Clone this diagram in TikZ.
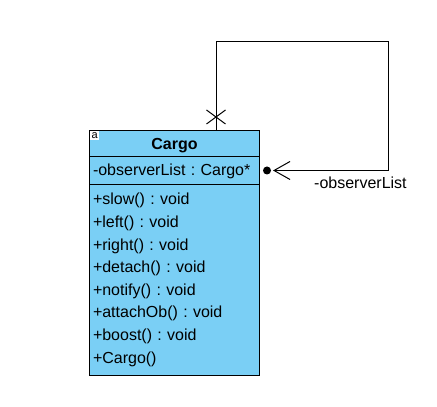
\documentclass[tikz,border=0pt]{standalone}
\usepackage{fontspec}
\setmainfont{Liberation Sans}
\usetikzlibrary{arrows.meta,positioning,shapes.multipart,shapes.misc,calc}
\definecolor{classblue}{RGB}{122,207,245}
\tikzset{
  umlclass/.style={
    rectangle split,
    rectangle split parts=3,
    rectangle split draw splits=true,
    draw,
    fill=classblue,
    line width=1pt,
    minimum width=170pt,
    text width=163pt,
    align=left,
    inner xsep=3.5pt,
    inner ysep=0pt,
    font=\fontsize{16}{22.6}\selectfont\frenchspacing
  },
  kindicon/.style={
    fill=white,
    minimum size=9pt,
    inner sep=0pt,
    font=\fontsize{11}{11}\selectfont
  },
  assoc/.style={line width=1pt},
  navend/.style={-{Straight Barb[length=16pt,width=18pt]}},
  ownerdot/.style={circle,fill,minimum size=8pt,inner sep=0pt},
  crossmark/.style={cross out,draw,line width=1pt,minimum width=18pt,minimum height=13pt,inner sep=0pt},
  rolelabel/.style={inner sep=0pt,font=\fontsize{16}{16}\selectfont}
}
\begin{document}
\begin{tikzpicture}[x=1pt,y=1pt]
\useasboundingbox (0,0) rectangle (437,407);

\node[umlclass, anchor=north west] (cargo) at (89,277) {
  \nodepart{one}\rule[-6.3pt]{0pt}{25pt}\makebox[\linewidth][c]{\textbf{Cargo}}
  \nodepart{two}
  \rule[-8pt]{0pt}{27pt}-observerList : Cargo*
  \nodepart{three}
  \rule{0pt}{20pt}+slow() : void\\
  +left() : void\\
  +right() : void\\
  +detach() : void\\
  +notify() : void\\
  +attachOb() : void\\
  +boost() : void\\
  +Cargo()\rule[-12pt]{0pt}{12pt}
};
\node[kindicon, anchor=north west] (kind) at ([xshift=1pt,yshift=-1pt]cargo.north west) {a};

% Cargo - Cargo (self association)
\coordinate (selfOut) at ([xshift=-44pt]cargo.north east);
\coordinate (attrEast) at ($(cargo.text split east)!0.5!(cargo.two split east)$);
\coordinate (loopTop) at ([yshift=88pt]selfOut);
\coordinate (loopEnd) at ([xshift=13pt]attrEast);
\draw[assoc, navend] (selfOut) -- (loopTop) -| ([xshift=128pt]attrEast) -- (loopEnd);
\node[crossmark] (navX) at ([yshift=13pt]selfOut) {};
\node[ownerdot] (ownDot) at ([xshift=7pt]attrEast) {};
\node[rolelabel, anchor=west] (role) at ([xshift=54pt,yshift=-12pt]attrEast) {-observerList};

\end{tikzpicture}
\end{document}
